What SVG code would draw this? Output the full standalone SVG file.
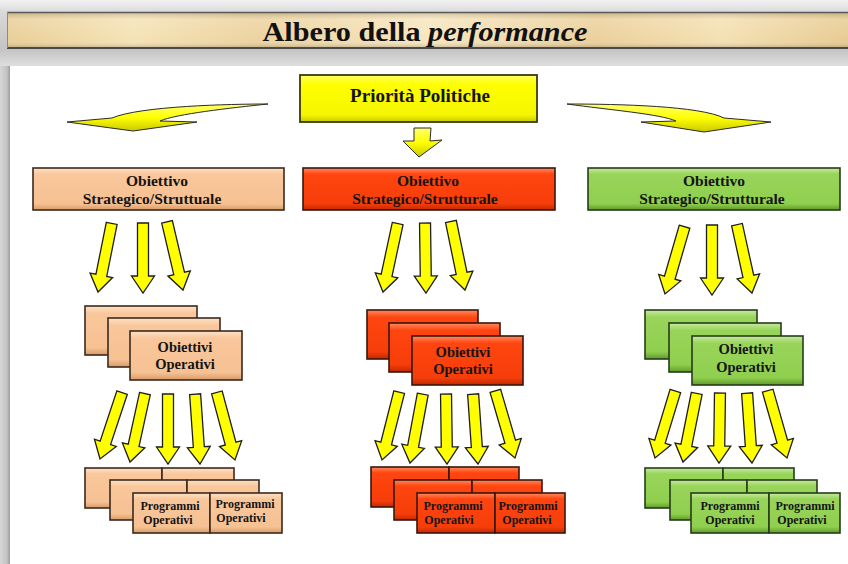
<svg xmlns="http://www.w3.org/2000/svg" xmlns:xlink="http://www.w3.org/1999/xlink" width="848" height="564" viewBox="0 0 848 564">
<defs>
<linearGradient id="gBand" x1="0" y1="0" x2="0" y2="1">
<stop offset="0" stop-color="#f2f2f2"/><stop offset="0.2" stop-color="#d8d8d8"/><stop offset="0.75" stop-color="#c4c4c4"/><stop offset="1" stop-color="#dedede"/>
</linearGradient>
<linearGradient id="gParch" x1="0" y1="0" x2="1" y2="0">
<stop offset="0" stop-color="#e9cf98"/><stop offset="0.15" stop-color="#f5e2b6"/><stop offset="0.3" stop-color="#ecd29f"/><stop offset="0.5" stop-color="#f7e6bf"/><stop offset="0.7" stop-color="#ebd09c"/><stop offset="0.85" stop-color="#f4e0b3"/><stop offset="1" stop-color="#e7cb92"/>
</linearGradient>
<linearGradient id="gParchV" x1="0" y1="0" x2="0" y2="1">
<stop offset="0" stop-color="#000" stop-opacity="0.15"/><stop offset="0.2" stop-color="#fff" stop-opacity="0.15"/><stop offset="0.8" stop-color="#fff" stop-opacity="0"/><stop offset="1" stop-color="#000" stop-opacity="0.2"/>
</linearGradient>
<linearGradient id="gStrip" x1="0" y1="0" x2="1" y2="0">
<stop offset="0" stop-color="#d6d6d6"/><stop offset="0.7" stop-color="#c2c2c2"/><stop offset="1" stop-color="#9a9a9a"/>
</linearGradient>
<linearGradient id="gYel" x1="0" y1="0" x2="0" y2="1">
<stop offset="0" stop-color="#ffff66"/><stop offset="0.2" stop-color="#ffff00"/><stop offset="0.85" stop-color="#f5f500"/><stop offset="1" stop-color="#c8c800"/>
</linearGradient>
<linearGradient id="gPeach" x1="0" y1="0" x2="0" y2="1">
<stop offset="0" stop-color="#fde2c8"/><stop offset="0.15" stop-color="#f9c79b"/><stop offset="0.85" stop-color="#f6c193"/><stop offset="1" stop-color="#d89a66"/>
</linearGradient>
<linearGradient id="gRed" x1="0" y1="0" x2="0" y2="1">
<stop offset="0" stop-color="#ff8a60"/><stop offset="0.15" stop-color="#ff4510"/><stop offset="0.85" stop-color="#f63e0a"/><stop offset="1" stop-color="#c02800"/>
</linearGradient>
<linearGradient id="gGreen" x1="0" y1="0" x2="0" y2="1">
<stop offset="0" stop-color="#c6eaa0"/><stop offset="0.15" stop-color="#99d45a"/><stop offset="0.85" stop-color="#8fcf4e"/><stop offset="1" stop-color="#5f9a2c"/>
</linearGradient>
<linearGradient id="gCurve" x1="0" y1="0" x2="0" y2="1">
<stop offset="0" stop-color="#ffff70"/><stop offset="0.5" stop-color="#ffff00"/><stop offset="1" stop-color="#c9c900"/>
</linearGradient>
<path id="arr" d="M-5.5,-70 L5.5,-70 L5.5,-17 L11.5,-17 L0,0 L-11.5,-17 L-5.5,-17 Z"/>
</defs>
<style>
.t{font-family:"Liberation Serif","Times New Roman",serif;font-weight:bold;fill:#141414;text-anchor:middle}
.peach{fill:url(#gPeach);stroke:#3b2a1e;stroke-width:1.6}
.red{fill:url(#gRed);stroke:#3a160a;stroke-width:1.6}
.green{fill:url(#gGreen);stroke:#263d18;stroke-width:1.6}
.ya{fill:#ffff00;stroke:#1e1e1e;stroke-width:1.3;stroke-linejoin:miter}
.curve{fill:url(#gCurve);stroke:#2a2a2a;stroke-width:1}
.s16{font-size:15.5px}
.s14{font-size:14.5px}
.s12{font-size:12px}
</style>

<!-- background -->
<rect x="0" y="0" width="848" height="564" fill="#ffffff"/>
<rect x="0" y="0" width="848" height="66" fill="url(#gBand)"/>
<rect x="0" y="66" width="10" height="498" fill="url(#gStrip)"/>
<rect x="7" y="12" width="841" height="36" fill="url(#gParch)"/>
<rect x="7" y="12" width="841" height="36" fill="url(#gParchV)"/>
<line x1="7" y1="12.5" x2="848" y2="12.5" stroke="#5a5a5a" stroke-width="1.5"/>
<line x1="7" y1="48" x2="848" y2="48" stroke="#4a4a4a" stroke-width="2"/>
<line x1="7.5" y1="12" x2="7.5" y2="48" stroke="#8a8a8a" stroke-width="1"/>
<text x="425" y="41" font-family="'Liberation Serif','Times New Roman',serif" font-size="27" font-weight="bold" fill="#111" text-anchor="middle" textLength="325" lengthAdjust="spacingAndGlyphs">Albero della <tspan font-style="italic">performance</tspan></text>

<!-- connectors -->
<g id="connectors">
<path class="curve" d="M268,104 C230,104 140,106 112,118 L67,122 L133,131 L197,122 L160,121 C176,114 230,108 268,104 Z"/>
<path class="curve" d="M567,104 C620,104 700,106 724,118 L771,122 L704,132 L641,122 L676,121 C660,114 610,110 567,104 Z"/>
<path class="curve" d="M414,128 L431,128 L430,141 L442,140 L419,157 L403,141 L414,141 Z"/>
<use href="#arr" class="ya" transform="translate(98,292) rotate(11.3)"/>
<use href="#arr" class="ya" transform="translate(143,293)"/>
<use href="#arr" class="ya" transform="translate(183,290) rotate(-13.2)"/>
<use href="#arr" class="ya" transform="translate(383,292) rotate(12.1)"/>
<use href="#arr" class="ya" transform="translate(426,293) rotate(-0.8)"/>
<use href="#arr" class="ya" transform="translate(465,290) rotate(-11.6)"/>
<use href="#arr" class="ya" transform="translate(665,294) rotate(16.2)"/>
<use href="#arr" class="ya" transform="translate(712,295)"/>
<use href="#arr" class="ya" transform="translate(752,293) rotate(-12.4)"/>
<use href="#arr" class="ya" transform="translate(100,459) rotate(18.4)"/>
<use href="#arr" class="ya" transform="translate(130,462) rotate(12.3)"/>
<use href="#arr" class="ya" transform="translate(168,464)"/>
<use href="#arr" class="ya" transform="translate(200,464) rotate(-4)"/>
<use href="#arr" class="ya" transform="translate(235,460) rotate(-15)"/>
<use href="#arr" class="ya" transform="translate(382,460) rotate(14.2)"/>
<use href="#arr" class="ya" transform="translate(410,463) rotate(10.5)"/>
<use href="#arr" class="ya" transform="translate(447,464) rotate(-0.8)"/>
<use href="#arr" class="ya" transform="translate(478,464) rotate(-4)"/>
<use href="#arr" class="ya" transform="translate(515,458) rotate(-16.3)"/>
<use href="#arr" class="ya" transform="translate(655,458) rotate(16.9)"/>
<use href="#arr" class="ya" transform="translate(683,462) rotate(11.3)"/>
<use href="#arr" class="ya" transform="translate(719,463) rotate(0.8)"/>
<use href="#arr" class="ya" transform="translate(752,463) rotate(-4)"/>
<use href="#arr" class="ya" transform="translate(787,458) rotate(-16)"/>
</g>

<!-- nodes -->
<g id="priorita">
<rect x="300" y="75" width="237" height="47" fill="url(#gYel)" stroke="#3a3a10" stroke-width="1.8"/>
<text class="t" x="420" y="102" font-size="19">Priorità Politiche</text>
</g>

<g id="strategico-left">
<rect class="peach" x="33" y="168" width="251" height="42"/>
<text class="t s16" x="157" y="186">Obiettivo</text>
<text class="t s16" x="152" y="204">Strategico/Struttuale</text>
</g>
<g id="strategico-center">
<rect class="red" x="303" y="168" width="252" height="42"/>
<text class="t s16" x="428" y="186">Obiettivo</text>
<text class="t s16" x="425" y="204">Strategico/Strutturale</text>
</g>
<g id="strategico-right">
<rect class="green" x="588" y="168" width="252" height="42"/>
<text class="t s16" x="714" y="186">Obiettivo</text>
<text class="t s16" x="712" y="204">Strategico/Strutturale</text>
</g>

<g id="operativi-left">
<rect class="peach" x="85" y="306" width="112" height="49"/>
<rect class="peach" x="108" y="318" width="112" height="49"/>
<rect class="peach" x="130" y="331" width="112" height="49"/>
<text class="t s14" x="185" y="352">Obiettivi</text>
<text class="t s14" x="185" y="369">Operativi</text>
</g>
<g id="operativi-center">
<rect class="red" x="367" y="310" width="111" height="49"/>
<rect class="red" x="389" y="323" width="111" height="49"/>
<rect class="red" x="412" y="336" width="111" height="49"/>
<text class="t s14" x="463" y="357">Obiettivi</text>
<text class="t s14" x="463" y="374">Operativi</text>
</g>
<g id="operativi-right">
<rect class="green" x="645" y="310" width="112" height="49"/>
<rect class="green" x="669" y="323" width="112" height="49"/>
<rect class="green" x="692" y="336" width="111" height="49"/>
<text class="t s14" x="746" y="354">Obiettivi</text>
<text class="t s14" x="746" y="372">Operativi</text>
</g>

<g id="programmi-left">
<rect class="peach" x="85" y="468" width="77" height="40"/>
<rect class="peach" x="162" y="468" width="72" height="40"/>
<rect class="peach" x="110" y="480" width="77" height="40"/>
<rect class="peach" x="187" y="480" width="72" height="40"/>
<rect class="peach" x="133" y="493" width="77" height="40"/>
<rect class="peach" x="210" y="493" width="72" height="40"/>
<text class="t s12" x="170" y="510">Programmi</text>
<text class="t s12" x="168" y="524">Operativi</text>
<text class="t s12" x="245" y="508">Programmi</text>
<text class="t s12" x="241" y="522">Operativi</text>
</g>
<g id="programmi-center">
<rect class="red" x="371" y="467" width="78" height="40"/>
<rect class="red" x="449" y="467" width="70" height="40"/>
<rect class="red" x="394" y="480" width="78" height="40"/>
<rect class="red" x="472" y="480" width="70" height="40"/>
<rect class="red" x="417" y="493" width="78" height="40"/>
<rect class="red" x="495" y="493" width="70" height="40"/>
<text class="t s12" x="453" y="510">Programmi</text>
<text class="t s12" x="449" y="524">Operativi</text>
<text class="t s12" x="528" y="510">Programmi</text>
<text class="t s12" x="527" y="524">Operativi</text>
</g>
<g id="programmi-right">
<rect class="green" x="645" y="468" width="78" height="40"/>
<rect class="green" x="723" y="468" width="71" height="40"/>
<rect class="green" x="670" y="480" width="77" height="40"/>
<rect class="green" x="747" y="480" width="70" height="40"/>
<rect class="green" x="691" y="493" width="78" height="40"/>
<rect class="green" x="769" y="493" width="71" height="40"/>
<text class="t s12" x="730" y="510">Programmi</text>
<text class="t s12" x="730" y="524">Operativi</text>
<text class="t s12" x="805" y="510">Programmi</text>
<text class="t s12" x="802" y="524">Operativi</text>
</g>
</svg>
